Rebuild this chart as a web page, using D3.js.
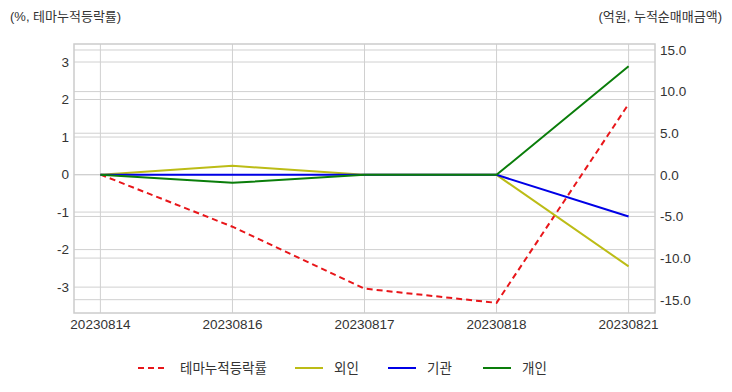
<!DOCTYPE html>
<html><head><meta charset="utf-8">
<script src="https://cdn.jsdelivr.net/npm/d3@7"></script>
<style>
body{margin:0;background:#fff;}
text{font-family:"Liberation Sans","Noto Sans CJK KR",sans-serif;}
</style></head>
<body><svg id="c" width="732" height="392"></svg>
<script>
const categories = ["20230814","20230816","20230817","20230818","20230821"];
const themeReturn = [0, -1.39, -3.04, -3.42, 1.88];
const foreign = [0, 1.08, 0, 0, -11.0];
const institution = [0, 0, 0, 0, -5.0];
const individual = [0, -0.96, 0, 0, 13.05];
const leftTicks = [3,2,1,0,-1,-2,-3];
const rightTicks = [15,10,5,0,-5,-10,-15];
const seriesNames = ["테마누적등락률","외인","기관","개인"];

const svg = d3.select("#c");
const L=74, R=655, T=44, B=313;
const x = d3.scalePoint().domain(categories).range([L+26.4, R-26.4]);
const yl = d3.scaleLinear().domain([-3.69, 3.48]).range([B, T]);
const yr = d3.scaleLinear().domain([-16.6, 15.72]).range([B, T]);
const grid="#d0d0d0", txt="#333";

const g = svg.append("g");
g.selectAll(".gl").data(leftTicks).join("line").attr("x1",L).attr("x2",R)
 .attr("y1",d=>yl(d)).attr("y2",d=>yl(d)).attr("stroke",grid).attr("stroke-width",1);
g.selectAll(".gr").data(rightTicks).join("line").attr("x1",L).attr("x2",R)
 .attr("y1",d=>yr(d)).attr("y2",d=>yr(d)).attr("stroke",grid).attr("stroke-width",1);
g.selectAll(".gx").data(categories).join("line").attr("x1",d=>x(d)).attr("x2",d=>x(d))
 .attr("y1",T).attr("y2",B).attr("stroke",grid).attr("stroke-width",1);
g.append("rect").attr("x",L).attr("y",T).attr("width",R-L).attr("height",B-T)
 .attr("fill","none").attr("stroke","#ccc").attr("stroke-width",1.5);

const fs=13.5;
svg.selectAll(".lt").data(leftTicks).join("text").attr("x",L-5).attr("y",d=>yl(d)).attr("dy","0.36em")
 .attr("text-anchor","end").attr("font-size",fs).attr("fill",txt).text(d=>d);
svg.selectAll(".rt").data(rightTicks).join("text").attr("x",R+5).attr("y",d=>yr(d)).attr("dy","0.36em")
 .attr("text-anchor","start").attr("font-size",fs).attr("fill",txt).text(d=>d.toFixed(1));
svg.selectAll(".xt").data(categories).join("text").attr("x",d=>x(d)).attr("y",B+16)
 .attr("text-anchor","middle").attr("font-size",fs).attr("fill",txt).text(d=>d);

svg.append("text").attr("x",10).attr("y",21).attr("font-size",13).attr("fill",txt).text("(%, 테마누적등락률)");
svg.append("text").attr("x",722).attr("y",21).attr("text-anchor","end").attr("font-size",13).attr("fill",txt).text("(억원, 누적순매매금액)");

const lineL = d3.line().x((d,i)=>x(categories[i])).y(d=>yl(d));
const lineR = d3.line().x((d,i)=>x(categories[i])).y(d=>yr(d));
const series = [
 {name:seriesNames[0], data:themeReturn, color:"#e8161a", dash:"6,4", line:lineL},
 {name:seriesNames[1], data:foreign, color:"#bcbc16", dash:null, line:lineR},
 {name:seriesNames[2], data:institution, color:"#0000e6", dash:null, line:lineR},
 {name:seriesNames[3], data:individual, color:"#0a7d0a", dash:null, line:lineR},
];
series.forEach(s=>{
  svg.append("path").attr("d",s.line(s.data)).attr("fill","none").attr("stroke",s.color)
   .attr("stroke-width",2).attr("stroke-dasharray",s.dash);
});

const legX=[138,295,388,483], legY=368;
series.forEach((s,i)=>{
  const lg=svg.append("g").attr("transform",`translate(${legX[i]},${legY})`);
  lg.append("line").attr("x1",0).attr("x2",28).attr("y1",0).attr("y2",0).attr("stroke",s.color)
   .attr("stroke-width",2).attr("stroke-dasharray",s.dash);
  lg.append("text").attr("x",i===0?42:39).attr("y",0).attr("dy","0.36em").attr("font-size",13.5).attr("fill",txt).text(s.name);
});
</script></body></html>
